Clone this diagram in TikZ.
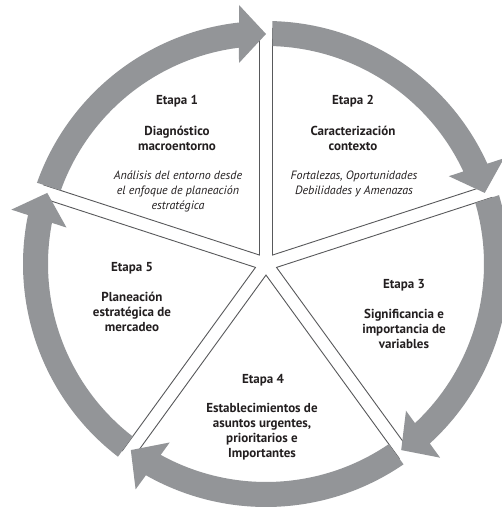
\documentclass[tikz,border=0pt]{standalone}
\usepackage{fontspec}
\setmainfont{PT Sans}
\usetikzlibrary{calc}
\definecolor{bandgray}{RGB}{147,149,152}
\definecolor{edgegray}{RGB}{88,89,91}
\definecolor{ink}{RGB}{35,31,32}
\begin{document}
\begin{tikzpicture}[x=1pt,y=1pt,
  edgeline/.style={draw=edgegray, line width=0.9pt},
  bandfill/.style={fill=bandgray},
  txt/.style={text=ink, inner sep=0pt, anchor=base, align=center},
  stagetitle/.style={txt, font=\bfseries\fontsize{13}{15}\selectfont},
  stagename/.style={txt, font=\bfseries\fontsize{13}{15}\selectfont},
  stagedesc/.style={txt, font=\itshape\fontsize{12}{15}\selectfont}]
\useasboundingbox (0,0) rectangle (502,508);
\fill[white] (0,0) rectangle (502,508);
\coordinate (C) at (266,244);
% wedge outlines
\foreach \g [count=\k] in {162,90,18,-54,-126} {
  \pgfmathsetmacro\ge{\g-72}
  \coordinate (w\k-tip) at ($(C)+(\g-36:11.06pt)$);
  \coordinate (w\k-a) at ($(C)+(\g:236pt)+(\g-90:6.5pt)$);
  \coordinate (w\k-b) at ($(C)+(\ge:236pt)+(\ge+90:6.5pt)$);
  \draw[edgeline] (w\k-a) -- (w\k-tip) -- (w\k-b);
}
% ring arrows
\foreach \g [count=\k] in {162,90,18,-54,-126} {
  \pgfmathsetmacro\ge{\g-72}
  \coordinate (a\k-so) at ($(C)+(\g-1.53:243pt)$);
  \coordinate (a\k-bo) at ($(C)+(\ge:259pt)+(\ge+90:27pt)$);
  \coordinate (a\k-tip) at ($(C)+(\ge:230pt)$);
  \coordinate (a\k-bi) at ($(C)+(\ge:201pt)+(\ge+90:27pt)$);
  \coordinate (a\k-ei) at ($(C)+(\ge+7.12:218pt)$);
  \fill[bandfill] (a\k-so) arc[start angle=\g-1.53, end angle=\ge+6.38, radius=243pt]
     -- (a\k-bo) -- (a\k-tip) -- (a\k-bi) -- (a\k-ei)
     arc[start angle=\ge+7.12, end angle=\g-1.71, radius=218pt] -- cycle;
}
% texts (multi-line nodes are anchored at the baseline of their last line)
\node[stagetitle] (e1t) at (177,403) {Etapa 1};
\node[stagename]  (e1s) at (177,357.5) {Diagnóstico\\macroentorno};
\node[stagedesc]  (e1d) at (178,298.5) {Análisis del entorno desde\\el enfoque de planeación\\estratégica};
\node[stagetitle] (e2t) at (353,403) {Etapa 2};
\node[stagename]  (e2s) at (353,357.5) {Caracterización\\contexto};
\node[stagedesc]  (e2d) at (354,313.5) {Fortalezas, Oportunidades\\Debilidades y Amenazas};
\node[stagetitle] (e3t) at (404,219) {Etapa 3};
\node[stagename]  (e3s) at (404,159) {Significancia e\\importancia de\\variables};
\node[stagetitle] (e4t) at (263,124) {Etapa 4};
\node[stagename]  (e4s) at (262,50) {Establecimientos de\\asuntos urgentes,\\prioritarios e\\Importantes};
\node[stagetitle] (e5t) at (132,236) {Etapa 5};
\node[stagename]  (e5s) at (132,176) {Planeación\\estratégica de\\mercadeo};
\end{tikzpicture}
\end{document}
